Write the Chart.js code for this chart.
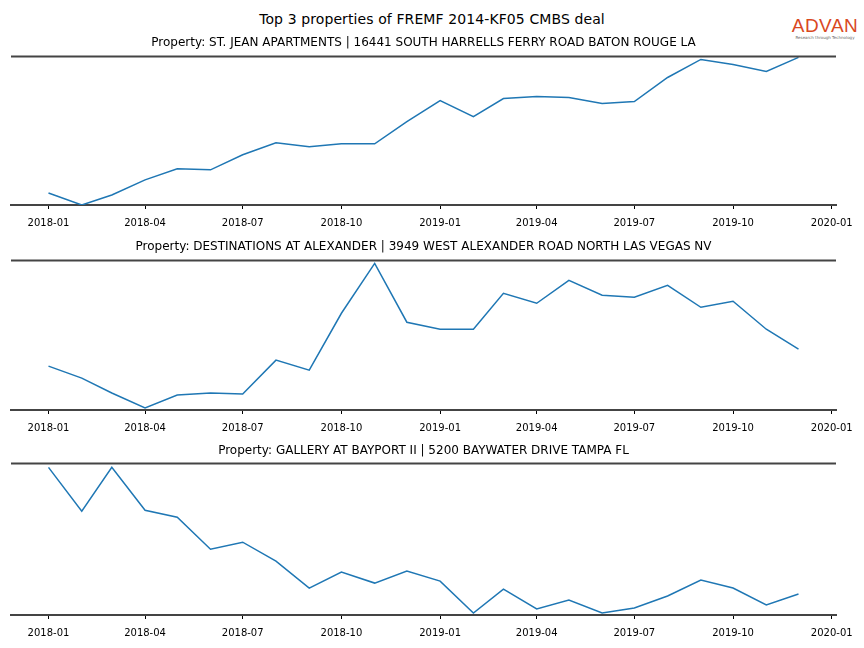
<!DOCTYPE html>
<html>
<head>
<meta charset="utf-8">
<script src="https://cdn.jsdelivr.net/npm/chart.js@4"></script>
<style>
  body { margin: 0; background: #fff; }
  #wrap { position: relative; width: 864px; height: 648px; overflow: hidden; font-family: "DejaVu Sans", sans-serif; }
  #suptitle { position: absolute; top: 11px; left: 0; width: 864px; text-align: center; font-size: 14px; letter-spacing: 0.1px; color: #000; }
  #logo { position: absolute; top: 16px; left: 790px; width: 70px; text-align: center; color: #d9481f; }
  #logo .big { font-family: "Liberation Sans", sans-serif; font-size: 19px; line-height: 19px; letter-spacing: 0.5px; }
  #logo .small { font-size: 4px; color: #666; line-height: 5px; }
  canvas { position: absolute; left: 0; }
</style>
</head>
<body>
<div id="wrap">
  <div id="suptitle">Top 3 properties of FREMF 2014-KF05 CMBS deal</div>
  <div id="logo"><div class="big">ADVAN</div><div class="small">Research through Technology</div></div>
  <canvas id="c1" width="864" height="207" style="top:30px"></canvas>
  <canvas id="c2" width="864" height="208" style="top:234px"></canvas>
  <canvas id="c3" width="864" height="209" style="top:438px"></canvas>
</div>
<script>
// months of data
const months = ['2018-01','2018-02','2018-03','2018-04','2018-05','2018-06','2018-07','2018-08','2018-09','2018-10','2018-11','2018-12',
                '2019-01','2019-02','2019-03','2019-04','2019-05','2019-06','2019-07','2019-08','2019-09','2019-10','2019-11','2019-12'];
const tick_labels = ['2018-01','2018-04','2018-07','2018-10','2019-01','2019-04','2019-07','2019-10','2020-01'];

const titles = [
  'Property: ST. JEAN APARTMENTS | 16441 SOUTH HARRELLS FERRY ROAD BATON ROUGE LA',
  'Property: DESTINATIONS AT ALEXANDER | 3949 WEST ALEXANDER ROAD NORTH LAS VEGAS NV',
  'Property: GALLERY AT BAYPORT II | 5200 BAYWATER DRIVE TAMPA FL'
];

// values (relative units, y axis not shown)
const st_jean = [12, 0, 10, 25, 36, 35, 50, 62, 58, 61, 61, 83, 104, 88, 106, 108, 107, 101, 103, 127, 145, 140, 133, 147];
const destinations = [44, 32, 17, 2, 15, 17, 16, 50, 40, 97, 147, 88, 81, 81, 117, 107, 130, 115, 113, 125, 103, 109, 81, 61];
const gallery = [148, 104, 148, 105, 98, 66, 73, 54, 27, 43, 32, 44, 34, 2, 26, 6, 15, 2, 7, 19, 35, 27, 10, 21];

const series = [st_jean, destinations, gallery];
const y_max = [148, 150, 152];

// days since 2018-01-01
function toDay(s){
  let p = s.split('-');
  return (Date.UTC(+p[0], +p[1]-1, 1) - Date.UTC(2018, 0, 1)) / 86400000;
}
const tick_days = tick_labels.map(toDay);
const first = toDay(months[0]), last = toDay(months[months.length-1]);
const margin = (last - first) * 0.05;

// top spine
const topSpine = {
  id: 'topSpine',
  afterDraw(chart){
    const a = chart.chartArea, c = chart.ctx;
    c.save();
    c.strokeStyle = '#444';
    c.lineWidth = 2;
    c.beginPath();
    c.moveTo(a.left, a.top);
    c.lineTo(a.right, a.top);
    c.stroke();
    c.restore();
  }
};

function makeChart(id, i, padTop, padBottom){
  const ctx = document.getElementById(id).getContext('2d');
  return new Chart(ctx, {
    type: 'line',
    data: {
      datasets: [{
        data: series[i].map((v, k) => ({x: toDay(months[k]), y: v})),
        borderColor: '#1f77b4',
        borderWidth: 1.5,
        pointRadius: 0,
        fill: false,
        tension: 0
      }]
    },
    options: {
      responsive: false,
      animation: false,
      devicePixelRatio: 1,
      layout: { padding: { left: 11, right: 28, top: 0, bottom: 0 } },
      plugins: {
        legend: { display: false },
        tooltip: { enabled: false },
        title: {
          display: true,
          text: titles[i],
          color: '#000',
          font: { family: 'DejaVu Sans', size: 12, weight: 'normal' },
          padding: { top: padTop, bottom: padBottom }
        }
      },
      scales: {
        x: {
          type: 'linear',
          min: first - margin,
          max: last + margin,
          afterBuildTicks: s => { s.ticks = tick_days.map(v => ({value: v})); },
          ticks: {
            autoSkip: false,
            maxRotation: 0,
            padding: 8,
            color: '#000',
            font: { family: 'DejaVu Sans', size: 10 },
            callback: v => tick_labels[tick_days.indexOf(v)]
          },
          grid: { drawOnChartArea: false, drawTicks: true, tickLength: 4, color: '#000' },
          border: { display: true, color: '#444', width: 2 }
        },
        y: { display: false, min: 0, max: y_max[i] }
      }
    },
    plugins: [topSpine]
  });
}

makeChart('c1', 0, 6, 6);
makeChart('c2', 1, 6, 6);
makeChart('c3', 2, 6, 5);
</script>
</body>
</html>
